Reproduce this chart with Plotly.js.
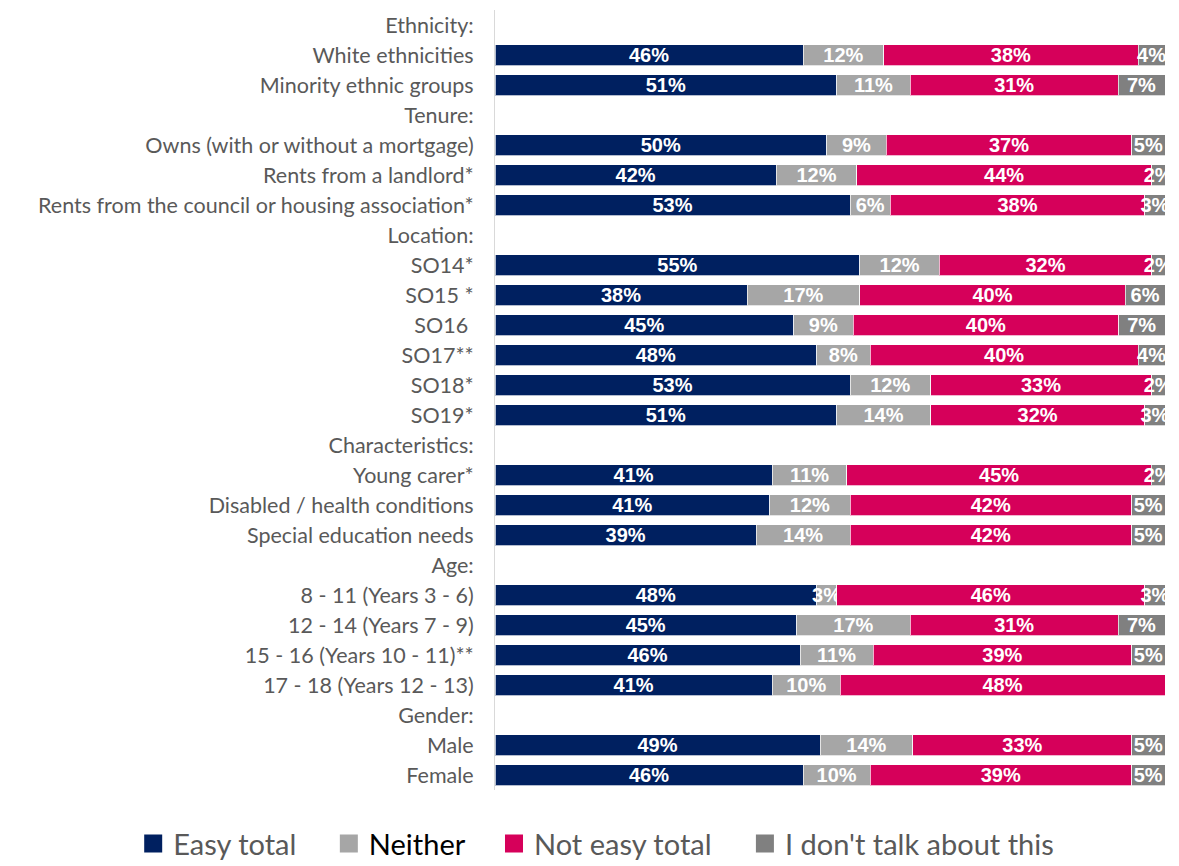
<!DOCTYPE html>
<html>
<head>
<meta charset="utf-8">
<script src="https://cdn.plot.ly/plotly-3.0.1.min.js"></script>
<style>html,body{margin:0;padding:0;background:#fff;}#chart{width:1179px;height:866px;}</style>
</head>
<body>
<div id="chart"></div>
<script>
const categories = [
  "Ethnicity:", "White ethnicities", "Minority ethnic groups",
  "Tenure:", "Owns (with or without a mortgage)", "Rents from a landlord*", "Rents from the council or housing association*",
  "Location:", "SO14*", "SO15 *", "SO16\u00a0", "SO17**", "SO18*", "SO19*",
  "Characteristics:", "Young carer*", "Disabled / health conditions", "Special education needs",
  "Age:", "8 - 11 (Years 3 - 6)", "12 - 14 (Years 7 - 9)", "15 - 16 (Years 10 - 11)**", "17 - 18 (Years 12 - 13)",
  "Gender:", "Male", "Female"
];
const easyTotal   = [null,46,51, null,50,42,53, null,55,38,45,48,53,51, null,41,41,39, null,48,45,46,41, null,49,46];
const neither     = [null,12,11, null, 9,12, 6, null,12,17, 9, 8,12,14, null,11,12,14, null, 3,17,11,10, null,14,10];
const notEasy     = [null,38,31, null,37,44,38, null,32,40,40,40,33,32, null,45,42,42, null,46,31,39,48, null,33,39];
const dontTalk    = [null, 4, 7, null, 5, 2, 3, null, 2, 6, 7, 4, 2, 3, null, 2, 5, 5, null, 3, 7, 5, 0, null, 5, 5];
const seriesNames = ["Easy total", "<span style='color:#000000'>Neither</span>", "Not easy total", "I don't talk about this"];
const seriesColors = ["#002060", "#A6A6A6", "#D6005A", "#808080"];
const seriesValues = [easyTotal, neither, notEasy, dontTalk];
const legendIds = ["legend", "legend2", "legend3", "legend4"];
const legendX = [-0.540, -0.248, -0.0015, 0.373];

const barTraces = seriesValues.map((vals, i) => ({
  type: 'bar',
  orientation: 'h',
  name: seriesNames[i],
  showlegend: false,
  y: categories,
  x: vals,
  text: vals.map(v => (v === null || v === 0) ? '' : v + '%'),
  texttemplate: '%{text}',
  textposition: 'inside',
  insidetextanchor: 'middle',
  textangle: 0,
  constraintext: 'none',
  cliponaxis: true,
  textfont: {color: '#ffffff', size: 20, family: "'Liberation Sans', Arial, sans-serif", weight: 'bold'},
  marker: {color: seriesColors[i], line: {color: 'rgba(255,255,255,0.7)', width: 1}},
  hoverinfo: 'skip'
}));

// legend-only entries (square swatches), one legend box per entry
const legendTraces = seriesNames.map((nm, i) => ({
  type: 'scatter', mode: 'markers', name: nm,
  legend: legendIds[i],
  x: [null], y: [null],
  marker: {symbol: 'square', size: 16, color: seriesColors[i], line: {color: seriesColors[i], width: 2}},
  hoverinfo: 'skip'
}));

const legendFont = {size: 29, color: '#595959', family: "Lato, 'Open Sans', sans-serif"};
const layout = {
  width: 1179, height: 866,
  barmode: 'stack',
  barnorm: 'percent',
  bargap: 0.3,
  margin: {l: 495, r: 14, t: 10, b: 76, autoexpand: false},
  paper_bgcolor: '#ffffff', plot_bgcolor: '#ffffff',
  font: {family: "Lato, 'Open Sans', sans-serif", color: '#595959'},
  showlegend: true,
  xaxis: {range: [0, 100], showticklabels: false, showgrid: false, zeroline: false, showline: false, fixedrange: true},
  yaxis: {
    type: 'category', autorange: 'reversed',
    showline: true, linecolor: '#d9d9d9', linewidth: 1,
    ticks: '', showgrid: false, zeroline: false,
    tickfont: {size: 21.5, color: '#595959', family: "Lato, 'Open Sans', sans-serif"},
    ticklabelstandoff: 16, fixedrange: true
  }
};
legendIds.forEach((id, i) => {
  layout[id] = {
    orientation: 'h', x: legendX[i], y: -0.036, xanchor: 'left', yanchor: 'top',
    font: legendFont, bgcolor: 'rgba(0,0,0,0)',
    itemclick: false, itemdoubleclick: false
  };
});

Plotly.newPlot('chart', barTraces.concat(legendTraces), layout, {displayModeBar: false, staticPlot: true});
</script>
</body>
</html>
